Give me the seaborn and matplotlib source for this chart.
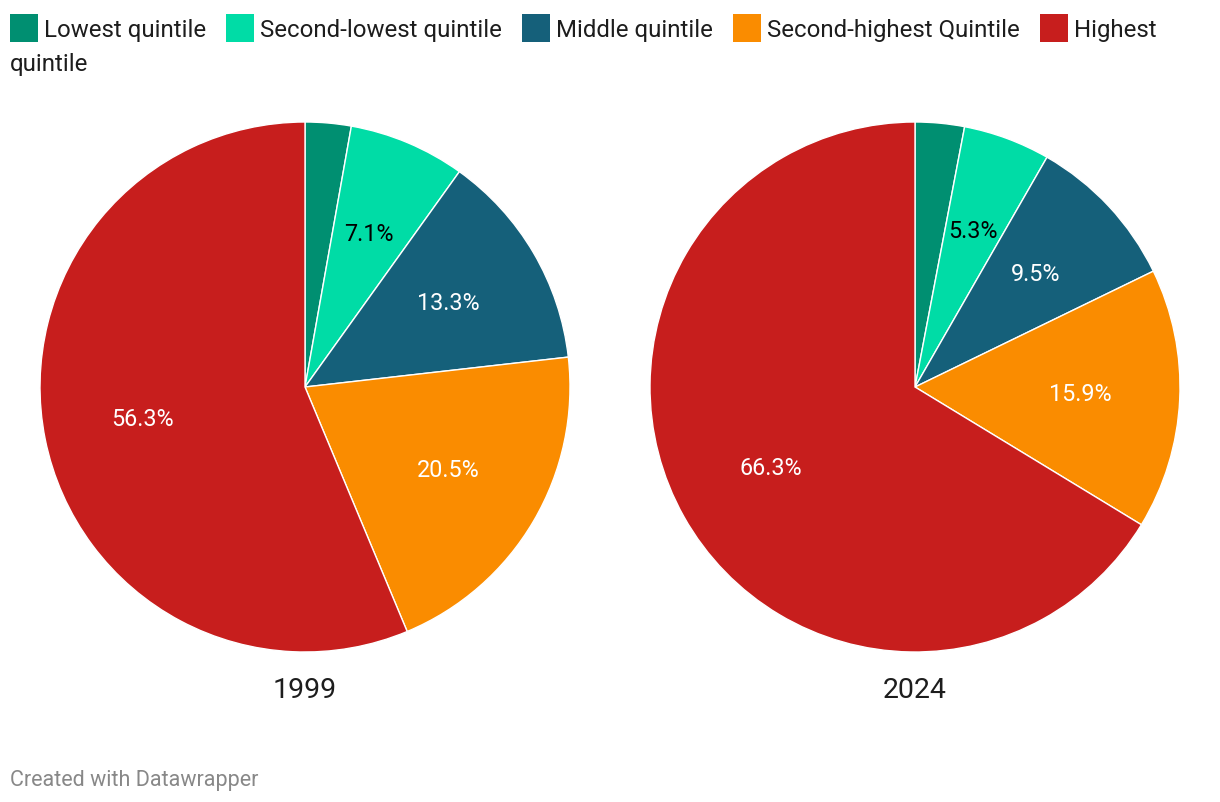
import matplotlib
matplotlib.use("Agg")
import matplotlib.pyplot as plt
import matplotlib.patches as mpatches
import seaborn as sns

categories = ["Lowest quintile", "Second-lowest quintile", "Middle quintile",
              "Second-highest Quintile", "Highest quintile"]
legend_labels = ["Lowest quintile", "Second-lowest quintile", "Middle quintile",
                 "Second-highest Quintile", "Highest"]
years = ["1999", "2024"]
values_1999 = [2.8, 7.1, 13.3, 20.5, 56.3]
values_2024 = [3.0, 5.3, 9.5, 15.9, 66.3]
colors = ["#008f71", "#00dca6", "#15607a", "#fa8c00", "#c71e1d"]
label_colors = ["white", "black", "white", "white", "white"]

sns.set_theme(style="white")
plt.rcParams["font.family"] = ["Roboto", "DejaVu Sans"]

W, H = 1220, 802
fig = plt.figure(figsize=(W / 100, H / 100), dpi=100)
fig.patch.set_facecolor("white")

def px_axes(cx, cy, r):
    return fig.add_axes([(cx - r) / W, (H - cy - r) / H, 2 * r / W, 2 * r / H])

centers = [(305, 387), (915, 387)]
R = 265
for (cx, cy), vals, yr in zip(centers, [values_1999, values_2024], years):
    ax = px_axes(cx, cy, R)
    wedges, texts = ax.pie(vals, colors=colors, startangle=90, counterclock=False,
                           labels=[f"{v:.1f}%" if v >= 4 else "" for v in vals],
                           labeldistance=0.625,
                           wedgeprops=dict(edgecolor="white", linewidth=1.0),
                           textprops=dict(fontsize=16.8, ha="center", va="center"))
    for t, c in zip(texts, label_colors):
        t.set_color(c)
        t.set_horizontalalignment("center")
    ax.set_xlim(-1, 1)
    ax.set_ylim(-1, 1)
    ax.set_aspect("equal")
    ax.axis("off")
    fig.text(cx / W, 1 - 690 / H, yr, ha="center", va="center", fontsize=20.5,
             color="#1d1d1d")

# Legend (manual layout, wraps like the original)
fig.canvas.draw()
renderer = fig.canvas.get_renderer()
x = 10
y_line1 = 28
sq = 28
leg_fs = 17.3
for lab, col in zip(legend_labels, colors):
    fig.patches.append(mpatches.Rectangle((x / W, 1 - (y_line1 + sq / 2) / H), sq / W, sq / H,
                                          transform=fig.transFigure, facecolor=col,
                                          edgecolor="none"))
    t = fig.text((x + sq + 6) / W, 1 - y_line1 / H, lab, ha="left", va="center_baseline",
                 fontsize=leg_fs, color="#1d1d1d")
    bb = t.get_window_extent(renderer)
    x = x + sq + 6 + bb.width + 20
fig.text(10 / W, 1 - 62 / H, "quintile", ha="left", va="center_baseline",
         fontsize=leg_fs, color="#1d1d1d")

fig.text(10 / W, 1 - 778 / H, "Created with Datawrapper", ha="left", va="center_baseline",
         fontsize=15.5, color="#888888")

fig.savefig("out.png", dpi=100, facecolor="white")
